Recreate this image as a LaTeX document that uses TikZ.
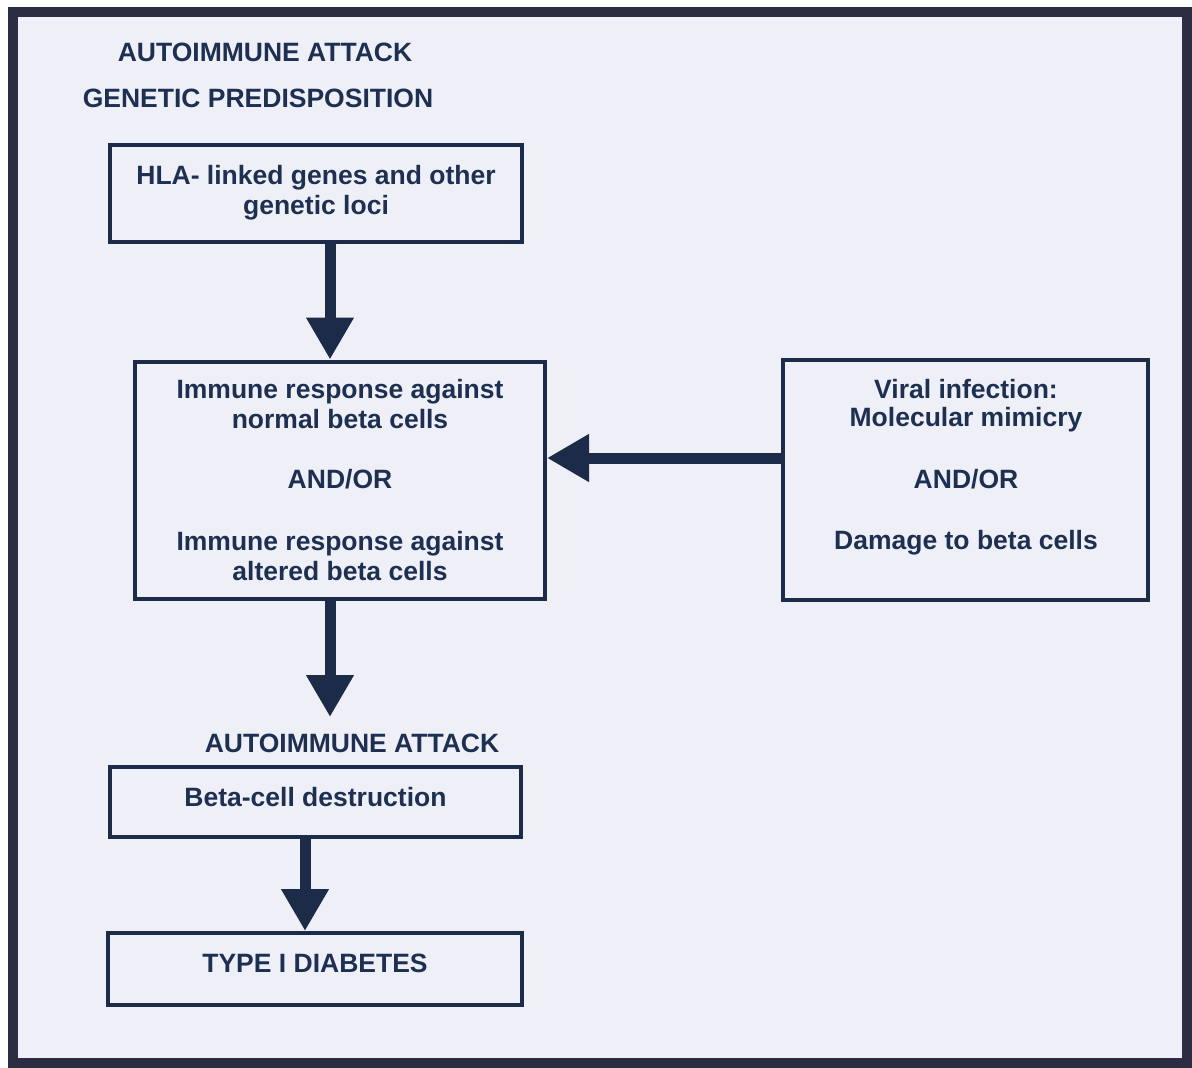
\documentclass[tikz,border=0pt]{standalone}
\usepackage{fontspec}
\setmainfont{Liberation Sans}
\usetikzlibrary{arrows.meta}
\definecolor{navy}{RGB}{30,48,82}
\definecolor{boxline}{RGB}{28,43,72}
\definecolor{frame}{RGB}{43,45,66}
\definecolor{marble}{RGB}{239,239,247}
\begin{document}
\begin{tikzpicture}[x=1pt, y=-1pt,
		txt/.style = {text=navy, font=\fontsize{26.5}{30}\selectfont\bfseries, align=center},
		box/.style = {txt, draw=boxline, line width=4pt, inner sep=0pt},
		bigarrow/.style = {draw=boxline, line width=11pt, -{Triangle[length=42pt, width=45pt]}}]
		\useasboundingbox (0,0) rectangle (1192,1068);
		\fill[white] (0,0) rectangle (1192,1068);
		\fill[marble] (13,12) rectangle (1187,1063);
		\draw[frame, line width=10pt] (13,12) rectangle (1187,1063);
		\node[txt] (title) at (265,52) {AUTOIMMUNE ATTACK};
		\node[txt] (genetic) at (258,98) {GENETIC PREDISPOSITION};
		\node[box, minimum width=412pt, minimum height=97pt] (hla) at (316,193.5) {\raisebox{3pt}{\begin{tabular}{@{}c@{}}HLA- linked genes and other\\genetic loci\end{tabular}}};
		\node[box, minimum width=410pt, minimum height=237pt] (immune) at (340,480) {Immune response against\\normal beta cells\\[30pt]AND/OR\\[32pt]Immune response against\\altered beta cells};
		\node[box, minimum width=365pt, minimum height=240pt] (viral) at (965.5,480) {};
		\node[txt] (viraltxt) at (966,467) {Viral infection:\\[-2pt]Molecular mimicry\\[32pt]AND/OR\\[31pt]Damage to beta cells};
		\coordinate (tip) at (330,717);
		\node[txt] (attack) at (352,743) {AUTOIMMUNE ATTACK};
		\node[box, minimum width=411pt, minimum height=70pt] (destr) at (315.5,802) {\raisebox{11pt}{Beta-cell destruction}};
		\node[box, minimum width=414pt, minimum height=72pt] (diab) at (315,969) {\raisebox{11pt}{TYPE I DIABETES}};
		\draw[bigarrow] ([xshift=14pt]hla.south) -- ([xshift=-10pt]immune.north);
		\draw[bigarrow] ([yshift=22pt]viral.west) -- ([yshift=22pt]immune.east);
		\draw[bigarrow] ([xshift=-10pt]immune.south) -- (tip);
		\draw[bigarrow] ([xshift=-10.5pt]destr.south) -- ([xshift=-10pt]diab.north);
	\end{tikzpicture}
\end{document}
